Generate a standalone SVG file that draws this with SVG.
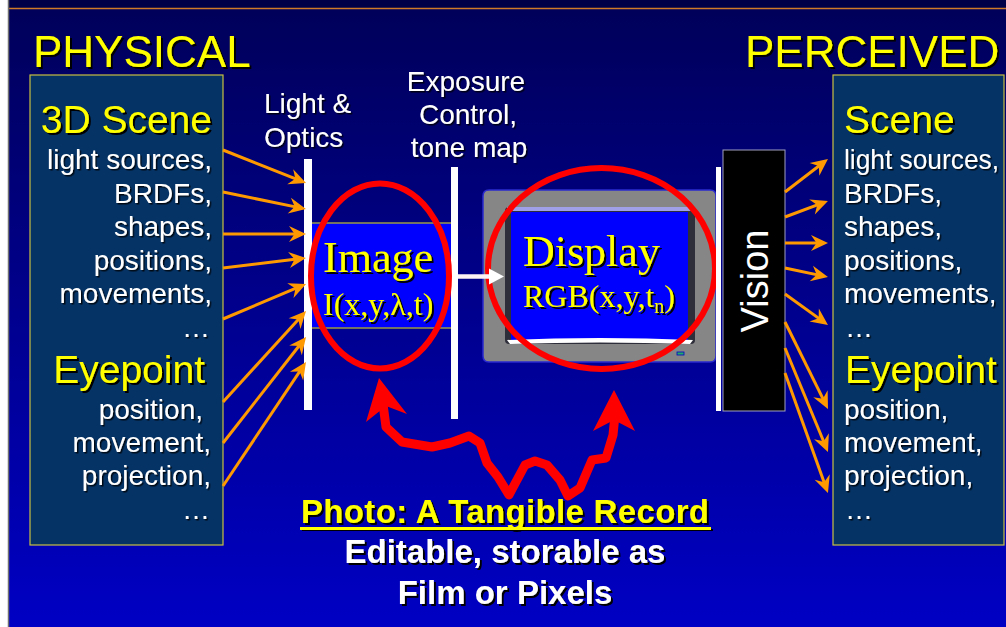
<svg xmlns="http://www.w3.org/2000/svg" width="1006" height="627" viewBox="0 0 1006 627">
  <defs>
    <linearGradient id="bg" x1="0" y1="8" x2="0" y2="627" gradientUnits="userSpaceOnUse">
      <stop offset="0" stop-color="#00005a"/>
      <stop offset="1" stop-color="#0000c4"/>
    </linearGradient>
    <filter id="sh" x="-10%" y="-20%" width="120%" height="150%">
      <feDropShadow dx="2" dy="2" stdDeviation="0" flood-color="#000" flood-opacity="1"/>
    </filter>
    <filter id="shs" x="-10%" y="-20%" width="120%" height="150%">
      <feDropShadow dx="1.5" dy="1.5" stdDeviation="0" flood-color="#000" flood-opacity="0.8"/>
    </filter>
    <marker id="orangeHead" markerUnits="userSpaceOnUse" markerWidth="24" markerHeight="24" viewBox="-12 -12 24 24" refX="0" refY="0" orient="auto">
      <path d="M7,0 L-10,-8 L-4.5,0 L-10,8 Z" fill="#ff9900"/>
    </marker>
    <style>
      .sans { font-family: "Liberation Sans", Arial, sans-serif; }
      .serif { font-family: "Liberation Serif", "Times New Roman", serif; }
      .title { font-size: 44px; fill: #ffff00; filter: url(#sh); }
      .head { font-size: 39px; fill: #ffff00; filter: url(#sh); }
      .body { font-size: 28px; fill: #ffffff; filter: url(#shs); }
      .box { fill: #053366; stroke: #c8c040; stroke-width: 1.2; }
      .bar { fill: #ffffff; }
      .ray { stroke: #ff9900; stroke-width: 3; fill: none; marker-end: url(#orangeHead); }
      .caption { font-size: 33px; font-weight: bold; filter: url(#sh); }
    </style>
  </defs>

  <!-- slide frame -->
  <rect x="0" y="0" width="1006" height="627" fill="#ffffff"/>
  <rect x="8" y="0" width="998" height="627" fill="url(#bg)"/>
  <rect x="8" y="0" width="998" height="8" fill="#000048"/>
  <line x1="8" y1="8.5" x2="1006" y2="8.5" stroke="#d07a28" stroke-width="1.5"/>
  <line x1="8.5" y1="0" x2="8.5" y2="627" stroke="#707070" stroke-width="1.5"/>

  <!-- column headings -->
  <text class="sans title" x="33" y="67">PHYSICAL</text>
  <text class="sans title" x="745" y="67">PERCEIVED</text>

  <!-- physical scene description -->
  <g id="physical">
    <rect class="box" x="30" y="75" width="193" height="470"/>
    <g class="sans" text-anchor="end">
      <text class="head" x="212" y="133">3D Scene</text>
      <text class="body" x="212" y="169">light sources,</text>
      <text class="body" x="212" y="203">BRDFs,</text>
      <text class="body" x="212" y="236">shapes,</text>
      <text class="body" x="212" y="270">positions,</text>
      <text class="body" x="212" y="303">movements,</text>
      <text class="body" x="210" y="337">…</text>
      <text class="head" x="205" y="383">Eyepoint</text>
      <text class="body" x="203" y="419">position,</text>
      <text class="body" x="211" y="452">movement,</text>
      <text class="body" x="211" y="485">projection,</text>
      <text class="body" x="210" y="519">…</text>
    </g>
  </g>

  <!-- perceived scene description -->
  <g id="perceived">
    <rect class="box" x="833" y="75" width="171" height="470"/>
    <g class="sans">
      <text class="head" x="844" y="133">Scene</text>
      <text class="body" x="844" y="169" textLength="155" lengthAdjust="spacingAndGlyphs">light sources,</text>
      <text class="body" x="844" y="203">BRDFs,</text>
      <text class="body" x="844" y="236">shapes,</text>
      <text class="body" x="844" y="270">positions,</text>
      <text class="body" x="844" y="303">movements,</text>
      <text class="body" x="845" y="337">…</text>
      <text class="head" x="845" y="383">Eyepoint</text>
      <text class="body" x="844" y="419">position,</text>
      <text class="body" x="844" y="452">movement,</text>
      <text class="body" x="844" y="485">projection,</text>
      <text class="body" x="845" y="519">…</text>
    </g>
  </g>

  <!-- light & optics stage -->
  <g id="optics">
    <text class="sans body" x="264" y="113">Light &amp;</text>
    <text class="sans body" x="264" y="147">Optics</text>
    <rect class="bar" x="304" y="159" width="8" height="251"/>
  </g>

  <!-- exposure control stage -->
  <g id="exposure">
    <g class="sans" text-anchor="middle">
      <text class="body" x="466" y="91">Exposure</text>
      <text class="body" x="468" y="124">Control,</text>
      <text class="body" x="469" y="157">tone map</text>
    </g>
    <rect class="bar" x="451" y="167" width="7" height="252"/>
  </g>

  <!-- recorded image -->
  <g id="image">
    <rect x="312" y="223" width="139" height="105" fill="#0000ff"/>
    <line x1="312" y1="223" x2="451" y2="223" stroke="#9a9a44" stroke-width="1.5"/>
    <line x1="312" y1="328" x2="451" y2="328" stroke="#9a9a44" stroke-width="1.5"/>
    <text class="serif" x="323" y="272" font-size="44" fill="#ffff00" filter="url(#sh)">Image</text>
    <text class="serif" x="323" y="315" font-size="32" fill="#ffff00" filter="url(#sh)">I(x,y,λ,t)</text>
    <ellipse cx="380" cy="276" rx="69" ry="92.5" fill="none" stroke="#ff0000" stroke-width="6"/>
  </g>

  <!-- display monitor -->
  <g id="display">
    <path d="M489,190 H710 Q716,190 716,196 V356 Q716,362 710,362 H489 Q483,362 483,356 V196 Q483,190 489,190 Z" fill="#868686" stroke="#2a2ad0" stroke-width="1.5"/>
    <rect x="505" y="207" width="190" height="137" rx="4" fill="#2e2e3a"/>
    <rect x="507" y="207" width="186" height="4" fill="#a0a0e8"/>
    <rect x="511" y="212" width="177" height="128" fill="#0000ff"/>
    <path d="M507,340 Q600,336 693,340 L690,344 Q600,341 510,344 Z" fill="#ffffff"/>
    <rect x="677" y="352" width="7" height="3" fill="#22aa66" stroke="#0000cc" stroke-width="0.8"/>
    <text class="serif" x="523" y="266" font-size="44" fill="#ffff00" filter="url(#sh)">Display</text>
    <text class="serif" x="523" y="307" font-size="32" fill="#ffff00" filter="url(#sh)">RGB(x,y,t<tspan font-size="20" dy="6">n</tspan><tspan dy="-6">)</tspan></text>
    <ellipse cx="601.5" cy="268.5" rx="113.5" ry="100.5" fill="none" stroke="#ff0000" stroke-width="6"/>
  </g>

  <!-- vision stage -->
  <g id="vision">
    <rect x="716" y="167" width="5" height="244" fill="#ffffff"/>
    <rect x="723" y="150" width="62" height="261" fill="#000000" stroke="#a0a0c0" stroke-width="1"/>
    <text class="sans" transform="translate(768,281) rotate(-90)" text-anchor="middle" font-size="38" fill="#ffffff">Vision</text>
  </g>

  <!-- connectors -->
  <g id="connectors">
    <!-- scene properties into the optics -->
    <path class="ray" d="M223,150 L299.5,180.4"/>
    <path class="ray" d="M223,192 L299.1,207.6"/>
    <path class="ray" d="M223,234 L299,234"/>
    <path class="ray" d="M223,268 L299,258.8"/>
    <path class="ray" d="M223,319 L299.6,286.7"/>
    <path class="ray" d="M223,402 L301.3,316.2"/>
    <path class="ray" d="M223,443 L301.7,342.5"/>
    <path class="ray" d="M223,486 L302.1,367.8"/>
    <!-- vision out to perceived properties -->
    <path class="ray" d="M785,192 L822.4,163.3"/>
    <path class="ray" d="M785,217 L821.4,203.4"/>
    <path class="ray" d="M785,243 L821,243"/>
    <path class="ray" d="M785,268 L821.1,275.6"/>
    <path class="ray" d="M785,294 L822.3,320.9"/>
    <path class="ray" d="M785,322 L824.9,402.7"/>
    <path class="ray" d="M785,348 L825.3,445.5"/>
    <path class="ray" d="M785,373 L825.6,486.4"/>
    <!-- image to display -->
    <line x1="458" y1="276.5" x2="492" y2="276.5" stroke="#fff4f4" stroke-width="4.5"/>
    <polygon points="504,276.5 489,268.5 489,284.5" fill="#ffffff"/>
    <!-- wavy link between image and display -->
    <path d="M383,404 L386,427 L402,442 L432,447 L450,443 L469,436 L480,443 L487,463 L498,477 L509,495 L525,465 L535,461 L547,465 L560,480 L568,496 L580,488 L592,460 L606,458 L613,435 L614.5,420" fill="none" stroke="#ff0000" stroke-width="9" stroke-linejoin="round" stroke-linecap="round"/>
    <polygon points="379,378 407,414 386,406 366,422" fill="#ff0000"/>
    <polygon points="614,390 635,431 614,420 593,431" fill="#ff0000"/>
  </g>

  <!-- caption -->
  <g id="caption" class="sans" text-anchor="middle">
    <text class="caption" x="505" y="523" fill="#ffff00" textLength="408" lengthAdjust="spacing">Photo: A Tangible Record</text>
    <rect x="300" y="527" width="411" height="3" fill="#ffff00" filter="url(#sh)"/>
    <text class="caption" x="505" y="563" fill="#ffffff">Editable, storable as</text>
    <text class="caption" x="505" y="604" fill="#ffffff">Film or Pixels</text>
  </g>
</svg>
